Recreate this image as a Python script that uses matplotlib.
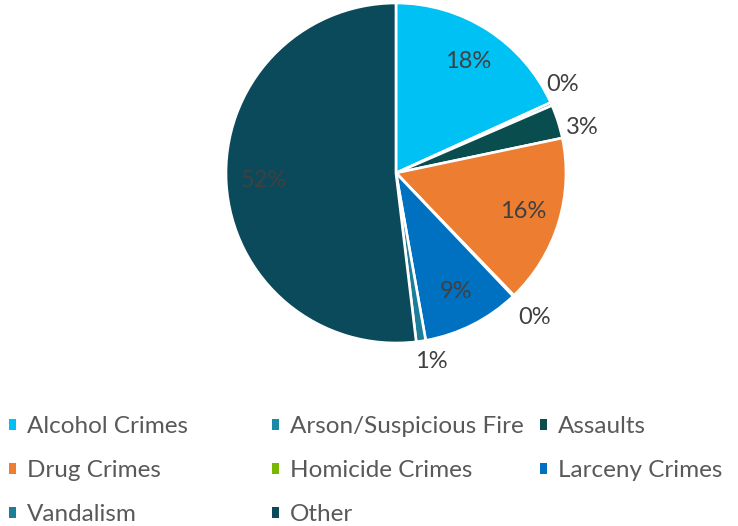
import numpy as np
import matplotlib
matplotlib.use('Agg')
import matplotlib.pyplot as plt
from matplotlib.patches import Patch

plt.rcParams['font.family'] = ['Lato', 'DejaVu Sans']

categories = ['Alcohol Crimes', 'Arson/Suspicious Fire', 'Assaults', 'Drug Crimes',
              'Homicide Crimes', 'Larceny Crimes', 'Vandalism', 'Other']
shares = [18.2, 0.3, 3.2, 16.1, 0.1, 9.3, 0.9, 51.9]
colors = ['#00C1F3', '#1A8BA6', '#0A4D4E', '#ED7D31',
          '#78B800', '#0070C0', '#1C7E98', '#0B4A5A']

fig = plt.figure(figsize=(7.38, 5.26), dpi=100)
ax = fig.add_axes([0.3062, 0.3479, 0.4607, 0.6464])

wedges, _ = ax.pie(shares, colors=colors, startangle=90, counterclock=False,
                   radius=1, wedgeprops=dict(edgecolor='white', linewidth=1.9))
ax.set_xlim(-1, 1)
ax.set_ylim(-1, 1)
ax.set_aspect('equal')

# label nudges (degrees, radius) for the small slices so they don't collide
nudge = {1: (4, 1.11), 2: (-4, 1.125), 4: (0, 1.18), 6: (2, 1.13)}

total = sum(shares)
for i, (w, v) in enumerate(zip(wedges, shares)):
    ang = (w.theta1 + w.theta2) / 2
    pct = 100 * v / total
    r = 0.78
    if i in nudge:
        ang += nudge[i][0]
        r = nudge[i][1]
    a = np.deg2rad(ang)
    ax.text(r * np.cos(a), r * np.sin(a), '%d%%' % round(pct),
            ha='center', va='center', fontsize=17, color='#404040')

# legend laid out row by row like the original (3 columns)
col_x = [0.0122, 0.368, 0.7317]
for c in range(3):
    idx = list(range(c, len(categories), 3))
    handles = [Patch(facecolor=colors[i], edgecolor='none') for i in idx]
    labels = [categories[i] for i in idx]
    fig.legend(handles, labels, loc='upper left', bbox_to_anchor=(col_x[c], 0.209),
               frameon=False, fontsize=17.5, labelcolor='#595959',
               handlelength=0.29, handleheight=0.29, handletextpad=0.46,
               labelspacing=0.955, borderaxespad=0, borderpad=0)

fig.savefig('out.png', dpi=100)
